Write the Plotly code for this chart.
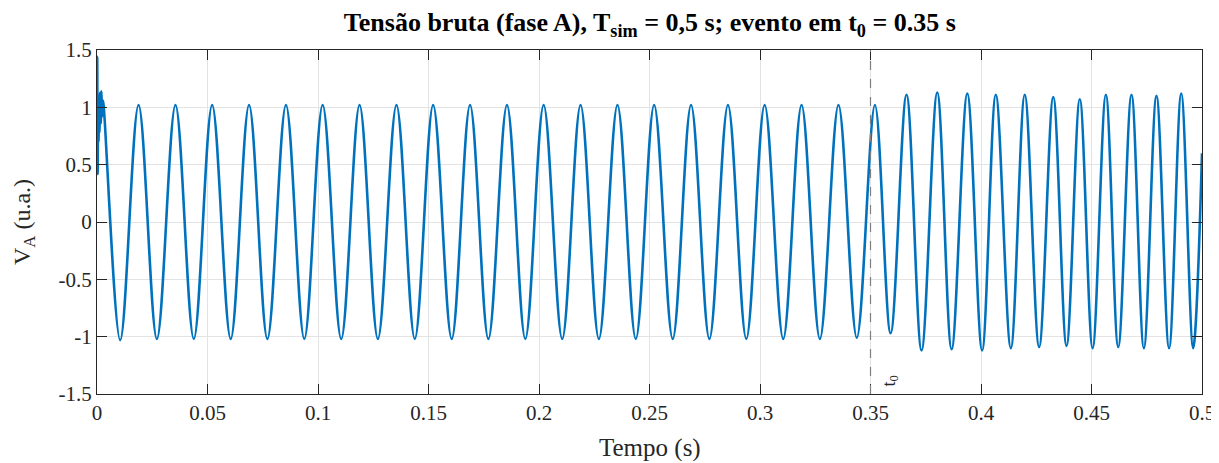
import plotly.graph_objects as go

# extrema of the phase-A voltage (s, p.u.)
start_t = [0.0, 0.0001, 0.0003, 0.0005, 0.0007, 0.0009, 0.0011, 0.0014, 0.0017, 0.0020, 0.0023, 0.0027]
start_v = [0.80, 1.44, 0.42, 1.05, 0.70, 1.10, 0.78, 1.13, 0.86, 1.14, 0.92, 1.06]

pre_t = [
    0.0105, 0.0188, 0.0271, 0.0355, 0.0438, 0.0521, 0.0605, 0.0688, 0.0771, 0.0855,
    0.0938, 0.1021, 0.1105, 0.1188, 0.1271, 0.1355, 0.1438, 0.1521, 0.1605, 0.1688,
    0.1771, 0.1855, 0.1938, 0.2021, 0.2105, 0.2188, 0.2271, 0.2355, 0.2438, 0.2521,
    0.2605, 0.2688, 0.2771, 0.2855, 0.2938, 0.3021, 0.3105, 0.3188, 0.3271, 0.3355,
    0.3438,
]
pre_v = [
    -1.03, 1.02, -1.02, 1.02, -1.02, 1.02, -1.02, 1.02, -1.02, 1.02,
    -1.02, 1.02, -1.02, 1.02, -1.02, 1.02, -1.02, 1.02, -1.02, 1.02,
    -1.02, 1.02, -1.02, 1.02, -1.02, 1.02, -1.02, 1.02, -1.02, 1.02,
    -1.02, 1.02, -1.02, 1.02, -1.02, 1.02, -1.02, 1.02, -1.02, 1.02,
    -1.01,
]

post_t = [
    0.3520, 0.3591, 0.3663, 0.3731, 0.3802, 0.3867, 0.3938, 0.4005, 0.4067, 0.4135,
    0.4198, 0.4263, 0.4327, 0.4387, 0.4447, 0.4505, 0.4565, 0.4621, 0.4681, 0.4737,
    0.4794, 0.4851, 0.4906, 0.4960, 0.5000,
]
post_v = [
    1.02, -0.97, 1.11, -1.12, 1.13, -1.11, 1.12, -1.12, 1.11, -1.10,
    1.11, -1.09, 1.09, -1.08, 1.07, -1.10, 1.11, -1.09, 1.11, -1.10,
    1.10, -1.10, 1.12, -1.10, 0.60,
]

t0 = 0.35
x_ticks = [0, 0.05, 0.1, 0.15, 0.2, 0.25, 0.3, 0.35, 0.4, 0.45, 0.5]
x_labels = ["0", "0.05", "0.1", "0.15", "0.2", "0.25", "0.3", "0.35", "0.4", "0.45", "0.5"]
y_ticks = [-1.5, -1, -0.5, 0, 0.5, 1, 1.5]
y_labels = ["-1.5", "-1", "-0.5", "0", "0.5", "1", "1.5"]

FONT = "Liberation Serif"
AXIS = "#262626"
GRID = "#e3e3e3"

fig = go.Figure()
fig.add_trace(go.Scatter(
    x=start_t + pre_t + post_t,
    y=start_v + pre_v + post_v,
    mode="lines",
    line=dict(color="#0072BD", width=2.6, shape="spline", smoothing=1.0),
    showlegend=False,
))

fig.add_shape(
    type="line", x0=t0, x1=t0, y0=-1.5, y1=1.5, xref="x", yref="y",
    line=dict(color="#7f7f7f", width=1.2, dash="dash"),
)
fig.add_annotation(
    x=t0, y=-1.5, xref="x", yref="y", text="t<sub>0</sub>", showarrow=False,
    textangle=-90, xanchor="left", yanchor="bottom", xshift=6, yshift=5,
    font=dict(family=FONT, size=18, color=AXIS),
)

# axis titles placed as annotations so they sit where the reference has them
fig.add_annotation(
    x=0.5, y=0, xref="paper", yref="paper", yshift=-54, yanchor="middle",
    text="Tempo (s)", showarrow=False,
    font=dict(family=FONT, size=25, color=AXIS),
)
fig.add_annotation(
    x=0, y=0.5, xref="paper", yref="paper", xshift=-73, xanchor="center",
    text="V<sub>A</sub> (u.a.)", showarrow=False, textangle=-90,
    font=dict(family=FONT, size=24, color=AXIS),
)

axis_common = dict(
    showline=True, linecolor=AXIS, linewidth=1, mirror="allticks",
    ticks="inside", ticklen=10, tickcolor=AXIS, tickwidth=1,
    showgrid=True, gridcolor=GRID, gridwidth=1, zeroline=False,
    tickfont=dict(family=FONT, size=21, color=AXIS), automargin=False,
)

fig.update_xaxes(range=[0, 0.5], tickvals=x_ticks, ticktext=x_labels, **axis_common)
fig.update_yaxes(range=[-1.5, 1.5], tickvals=y_ticks, ticktext=y_labels, **axis_common)

# the page body adds an 8 px / 10 px offset, so the figure is sized to fit the window
fig.update_layout(
    width=1211, height=453,
    paper_bgcolor="white", plot_bgcolor="white",
    margin=dict(l=89, r=17, t=42, b=67, autoexpand=False),
    title=dict(
        text="<b>Tensão bruta (fase A), T<sub>sim</sub> = 0,5 s; evento em t<sub>0</sub> = 0.35 s</b>",
        font=dict(family=FONT, size=26, color="#000000"),
        x=0.530, xanchor="center", y=0.969, yanchor="middle",
    ),
)

fig.write_html("out.html")
